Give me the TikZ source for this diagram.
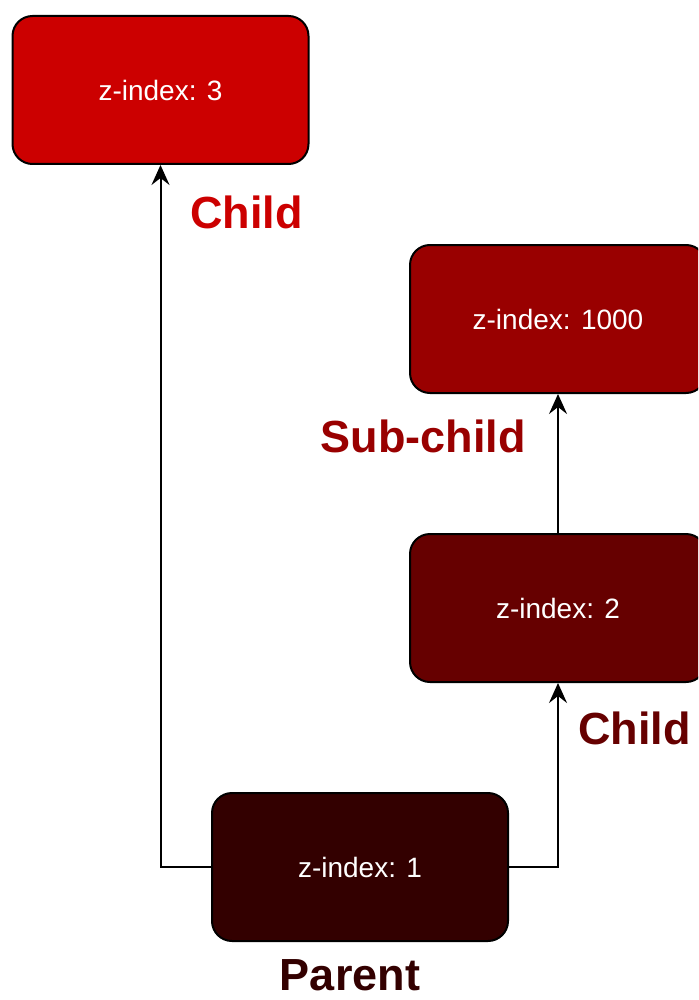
\documentclass[tikz,border=0pt]{standalone}
\usepackage{fontspec}
\setmainfont{Liberation Sans}
\usetikzlibrary{arrows.meta}
\definecolor{zthree}{HTML}{CC0000}
\definecolor{zthousand}{HTML}{990000}
\definecolor{ztwo}{HTML}{660000}
\definecolor{zone}{HTML}{330000}
\tikzset{
  zbox/.style={draw=black, line width=2pt, rounded corners=20pt,
    minimum width=296pt, minimum height=148pt, text=white,
    font=\fontsize{28}{32}\selectfont, inner sep=0pt},
  zlabel/.style={font=\fontsize{45}{54}\selectfont\bfseries, inner sep=0pt},
  conn/.style={draw=black, line width=2pt, -{Stealth[length=20pt,width=18pt,inset=7pt]}}
}
\begin{document}
\begin{tikzpicture}[x=1pt,y=-1pt]
\clip (0,0) rectangle (698,1000);
\fill[white] (0,0) rectangle (698,1000);
\node[zbox, fill=zthree] (b1) at (160.5,90) {z-index: 3};
\node[zbox, fill=zthousand] (b2) at (558,319) {z-index: 1000};
\node[zbox, fill=ztwo] (b3) at (558,608) {z-index: 2};
\node[zbox, fill=zone] (p) at (360,867) {z-index: 1};
\node[zlabel, text=zthree, anchor=west] (l1) at (190,212) {Child};
\node[zlabel, text=zthousand] (l2) at (423,436) {Sub-child};
\node[zlabel, text=ztwo, anchor=west] (l3) at (578,728) {Child};
\node[zlabel, text=zone] (l4) at (350,975) {Parent};
\draw[conn] (p.west) -| (b1.south);
\draw[conn] (p.east) -| (b3.south);
\draw[conn] (b3.north) -- (b2.south);
\end{tikzpicture}
\end{document}
